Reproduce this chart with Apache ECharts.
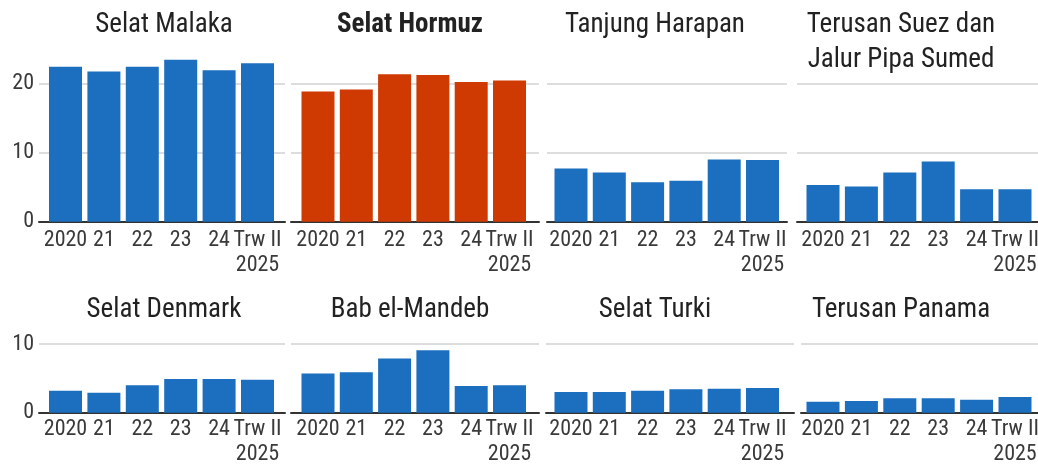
<!DOCTYPE html>
<html><head><meta charset="utf-8">
<script src="https://cdn.jsdelivr.net/npm/echarts@6/dist/echarts.min.js"></script>
<style>html,body{margin:0;padding:0;background:#fff}#c{width:1038px;height:464px}</style>
</head><body><div id="c"></div>
<script>
// ---- data ----
const categories = ['2020', '21', '22', '23', '24', 'Trw II\n2025'];
const titles = ['Selat Malaka', 'Selat Hormuz', 'Tanjung Harapan', 'Terusan Suez dan\nJalur Pipa Sumed',
                'Selat Denmark', 'Bab el-Mandeb', 'Selat Turki', 'Terusan Panama'];
const selatMalaka    = [22.4, 21.7, 22.4, 23.4, 21.9, 22.9];
const selatHormuz    = [18.8, 19.1, 21.3, 21.2, 20.2, 20.4];
const tanjungHarapan = [7.7, 7.1, 5.7, 5.9, 9.0, 8.9];
const terusanSuez    = [5.3, 5.1, 7.1, 8.7, 4.7, 4.7];
const selatDenmark   = [3.2, 2.9, 4.0, 4.9, 4.9, 4.8];
const babElMandeb    = [5.7, 5.9, 7.9, 9.1, 3.9, 4.0];
const selatTurki     = [3.0, 3.0, 3.2, 3.4, 3.5, 3.6];
const terusanPanama  = [1.6, 1.7, 2.1, 2.1, 1.9, 2.3];
const yTicksTop = [0, 10, 20];
const yTicksBottom = [0, 10];

const seriesValues = [selatMalaka, selatHormuz, tanjungHarapan, terusanSuez,
                      selatDenmark, babElMandeb, selatTurki, terusanPanama];

// ---- layout ----
const FONT = "'Roboto Condensed', 'DejaVu Sans Condensed', sans-serif";
const BLUE = '#1c6fbf', RED = '#cf3a02';
const rows = [
  { zero: 221.7, ppu: 6.92, max: 25, ticks: yTicksTop, titleY: 25, lm: 6 },
  { zero: 412.7, ppu: 6.87, max: 10, ticks: yTicksBottom, titleY: 310, lm: 4 }
];
const panels = [
  { a0: 39,  a1: 285,  c1: 65.5, c6: 257.5, row: 0, tx: 164 },
  { a0: 291, a1: 539,  c1: 318,  c6: 509.5, row: 0, tx: 410, bold: true, color: RED },
  { a0: 547, a1: 787,  c1: 571,  c6: 762.5, row: 0, tx: 655 },
  { a0: 797, a1: 1038, c1: 823,  c6: 1015,  row: 0, tx: 901 },
  { a0: 39,  a1: 285,  c1: 65.5, c6: 257.5, row: 1, tx: 164 },
  { a0: 291, a1: 539,  c1: 318,  c6: 509.5, row: 1, tx: 410 },
  { a0: 546, a1: 794,  c1: 571,  c6: 762.5, row: 1, tx: 655 },
  { a0: 801, a1: 1038, c1: 823,  c6: 1015,  row: 1, tx: 901 }
];

const grid = [], xAxis = [], yAxis = [], series = [], graphic = [];
panels.forEach((p, k) => {
  const r = rows[p.row];
  const step = (p.c6 - p.c1) / 5;
  grid.push({ left: p.a0, width: p.a1 - p.a0, top: r.zero - r.max * r.ppu, height: r.max * r.ppu,
              containLabel: false, outerBoundsMode: 'none' });
  xAxis.push({
    type: 'value', gridIndex: k,
    min: -(p.c1 - p.a0) / step, max: 5 + (p.a1 - p.c6) / step,
    axisLine: { show: true, onZero: false, lineStyle: { color: '#333', width: 2 } },
    axisTick: { show: false },
    splitLine: { show: false },
    axisLabel: {
      customValues: [0, 1, 2, 3, 4, 5],
      showMinLabel: true, showMaxLabel: true, hideOverlap: false,
      formatter: v => categories[Math.round(v)],
      fontFamily: FONT, fontSize: 22, color: '#3a3a3a', lineHeight: 25, margin: r.lm
    }
  });
  yAxis.push({
    type: 'value', gridIndex: k, min: 0, max: r.max, interval: 10,
    axisLine: { show: false },
    axisTick: { show: false, customValues: r.ticks },
    axisLabel: { show: k % 4 === 0, customValues: r.ticks, fontFamily: FONT, fontSize: 22, color: '#3a3a3a', margin: 5 },
    splitLine: { show: true, lineStyle: { color: ['#d2d2d2', '#d2d2d2', '#d2d2d2', 'rgba(0,0,0,0)'], width: 1.5 } }
  });
  series.push({
    type: 'bar', xAxisIndex: k, yAxisIndex: k, barWidth: 33, clip: false,
    itemStyle: { color: p.color || BLUE },
    data: seriesValues[k].map((v, i) => [i, v])
  });
  graphic.push({
    type: 'text', x: p.tx, y: r.titleY - 17.5,
    style: {
      text: titles[k], fill: '#222', textAlign: 'center', textVerticalAlign: 'top',
      font: (p.bold ? 'bold ' : '') + '27px ' + FONT, lineHeight: 35
    }
  });
});

const chart = echarts.init(document.getElementById('c'), null, { renderer: 'canvas' });
chart.setOption({ animation: false, backgroundColor: '#fff', grid, xAxis, yAxis, series, graphic });
</script></body></html>
